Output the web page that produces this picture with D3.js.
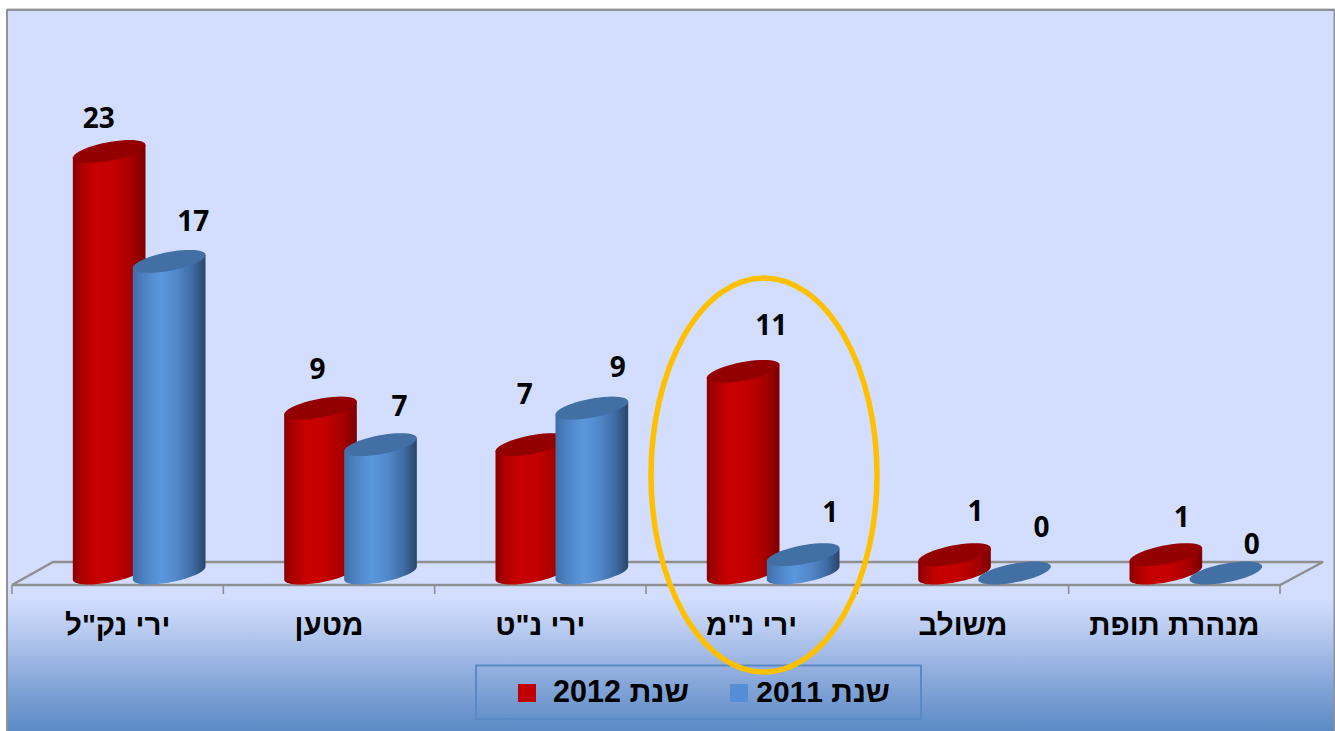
<!DOCTYPE html>
<html><head><meta charset="utf-8">
<style>html,body{margin:0;padding:0;background:#fff;overflow:hidden}svg{display:block}</style>
<script src="https://cdnjs.cloudflare.com/ajax/libs/d3/7.8.5/d3.min.js"></script>
</head><body><svg id="c" width="1335" height="731"></svg>
<script>
const categories = ['ירי נק"ל','מטען','ירי נ"ט','ירי נ"מ','משולב','מנהרת תופת'];
const seriesNames = ['שנת 2012','שנת 2011'];
const values2012 = [23,9,7,11,1,1];
const values2011 = [17,7,9,1,0,0];

const svg = d3.select('#c');
const defs = svg.append('defs');
function grad(id, x1, y1, x2, y2, stops){
  const g = defs.append('linearGradient').attr('id',id).attr('x1',x1).attr('y1',y1).attr('x2',x2).attr('y2',y2);
  stops.forEach(s=>g.append('stop').attr('offset',s[0]).attr('stop-color',s[1]));
}
grad('bg',0,0,0,1,[[0,'#d3deff'],[0.815,'#d3deff'],[0.86,'#b9cbf0'],[0.93,'#88a8da'],[1,'#5b8ac5']]);
grad('redBody',0,0,1,0,[[0,'#8a0000'],[0.12,'#ab0000'],[0.3,'#c80000'],[0.55,'#c40000'],[0.8,'#a80000'],[1,'#7a0000']]);
grad('blueBody',0,0,1,0,[[0,'#3f6ea8'],[0.15,'#4c82c3'],[0.38,'#5b97dd'],[0.6,'#5288cb'],[0.82,'#3e6ca4'],[1,'#2a4468']]);

// frame
svg.append('rect').attr('x',7).attr('y',11).attr('width',1328).attr('height',720).attr('fill','url(#bg)');
svg.append('path').attr('d','M7 8.5H1335').attr('fill','none').attr('stroke','#d4d4d4').attr('stroke-width',1);
svg.append('path').attr('d','M7 731V10H1334.5V731').attr('fill','none').attr('stroke','#8f9296').attr('stroke-width',2);

// geometry
const frontY = 585, backY = 562, floorDx = 41;
const x0 = d3.scaleBand().domain(categories).range([12,1280]).paddingInner(0).paddingOuter(0);
const x1 = d3.scaleBand().domain(seriesNames).range([1,x0.bandwidth()+1]).paddingInner(0).paddingOuter(0.761);
const y = d3.scaleLinear().domain([0,23]).range([573,151.5]);
const halfW = x1.bandwidth()/2, skewX = floorDx/2, skewY = (frontY-backY)/2;

const t0 = Math.atan2(skewX, halfW);
const pt = (cx,cy,t)=>[cx+halfW*Math.cos(t)+skewX*Math.sin(t), cy-skewY*Math.sin(t)];
function ellipse(cx,cy,from,to){
  const n=48; return d3.range(n+1).map(i=>pt(cx,cy,from+(to-from)*i/n));
}
const line = d3.line();

// floor
const floor = svg.append('g').attr('fill','none').attr('stroke','#8f8f8f').attr('stroke-width',2.4);
floor.append('path').attr('d',line([[12,frontY],[floorDx+12,backY],[1323,backY],[1280,frontY],[12,frontY]]));
const ticks = x0.domain().map(c=>x0(c)).concat([x0.range()[1]]);
floor.selectAll('line').data(ticks).join('line').attr('x1',d=>d).attr('x2',d=>d).attr('y1',frontY).attr('y2',frontY+9).attr('stroke-width',1.6);

// bars
const series = [
 {name:seriesNames[0],vals:values2012,body:'url(#redBody)',top:'#930000',legend:'#c00000',
  lx:[-10.5,-3,-7,28,21,16], ly:[24,29,41,36,34,28]},
 {name:seriesNames[1],vals:values2011,body:'url(#blueBody)',top:'#426fa4',legend:'#558ed5',
  lx:[24,19,26,27,27,26], ly:[30,29,31,33,36,19]}
];
const bars = svg.append('g');
categories.forEach((c,i)=>{
  series.forEach(s=>{
    const v = s.vals[i];
    const cx = x0(c)+x1(s.name)+halfW+skewX;
    const top = y(v), base = y(0);
    const g = bars.append('g');
    if(v>0){
      const lowerArc = ellipse(cx,base,Math.PI+t0,2*Math.PI+t0);
      const pts = [pt(cx,top,Math.PI+t0)].concat(lowerArc,[pt(cx,top,t0)]);
      g.append('path').attr('d',line(pts)+'Z').attr('fill',s.body);
    }
    g.append('path').attr('d',line(ellipse(cx,top,0,2*Math.PI))+'Z').attr('fill',s.top);
    svg.append('text').attr('class','dl').attr('x',cx+s.lx[i]).attr('y',top-s.ly[i]).attr('text-anchor','middle')
      .attr('font-family','"Open Sans","Noto Sans",sans-serif').attr('font-weight',700).attr('font-size',28).attr('fill','#000').text(v);
  });
});

// category labels
svg.append('g').selectAll('text').data(categories).join('text')
  .attr('x',d=>x0(d)+x0.bandwidth()/2).attr('y',635).attr('text-anchor','middle').attr('direction','rtl')
  .attr('font-family','"Liberation Sans",Arial,sans-serif').attr('font-weight',700).attr('font-size',29.5).attr('fill','#000')
  .text(d=>d);

// legend
svg.append('rect').attr('x',476).attr('y',665.5).attr('width',445).attr('height',53.5).attr('fill','none').attr('stroke','#5a8ac6').attr('stroke-width',2);
const legendItems=[{s:series[0],sw:518,tx:689,fs:30.5},{s:series[1],sw:730,tx:890,fs:30}];
legendItems.forEach(l=>{
  svg.append('rect').attr('x',l.sw).attr('y',684).attr('width',18).attr('height',18).attr('fill',l.s.legend);
  svg.append('text').attr('x',l.tx).attr('y',702).attr('text-anchor','start').attr('direction','rtl')
    .attr('font-family','"Liberation Sans",Arial,sans-serif').attr('font-weight',700).attr('font-size',l.fs).attr('fill','#000').text(l.s.name);
});

// highlight ellipse
svg.append('ellipse').attr('cx',764).attr('cy',475).attr('rx',113).attr('ry',197).attr('fill','none').attr('stroke','#ffc000').attr('stroke-width',5.5);
</script></body></html>
